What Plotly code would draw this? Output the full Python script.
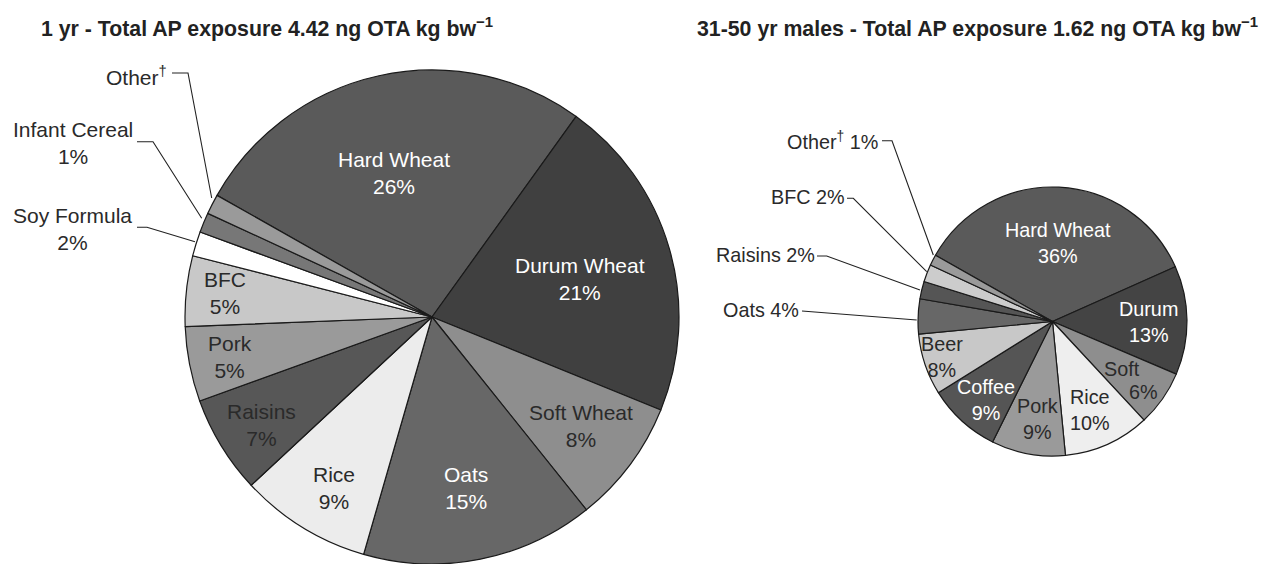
import plotly.graph_objects as go

W, H = 1265, 564

# 1 yr old children
kids_foods = ["Hard Wheat", "Durum Wheat", "Soft Wheat", "Oats", "Rice", "Raisins",
              "Pork", "BFC", "Soy Formula", "Infant Cereal", "Other"]
kids_share = [26.7, 21.2, 8.1, 15.2, 8.6, 6.4, 4.9, 4.6, 1.6, 1.3, 1.3]
kids_pct = ["26%", "21%", "8%", "15%", "9%", "7%", "5%", "5%", "2%", "1%", ""]
kids_colors = ["#5a5a5a", "#404040", "#8e8e8e", "#676767", "#ececec", "#575757",
               "#9a9a9a", "#c8c8c8", "#ffffff", "#777777", "#9a9a9a"]

# 31-50 yr males
men_foods = ["Hard Wheat", "Durum", "Soft", "Rice", "Pork", "Coffee", "Beer",
             "Oats", "Raisins", "BFC", "Other"]
men_share = [35.2, 13.1, 6.7, 10.4, 8.9, 8.8, 7.4, 4.2, 2.1, 2.1, 1.3]
men_pct = ["36%", "13%", "6%", "10%", "9%", "9%", "8%", "4%", "2%", "2%", "1%"]
men_colors = ["#5a5a5a", "#444444", "#8e8e8e", "#eeeeee", "#9a9a9a", "#555555",
              "#c8c8c8", "#676767", "#555555", "#cccccc", "#9a9a9a"]

FONT = "Liberation Sans, Arial, sans-serif"
DARK = "#2a2a2a"


def px(x, y):
    # pixel -> paper
    return x / W, 1 - y / H


fig = go.Figure()

# left pie: centre (432,317), r=247
fig.add_trace(go.Pie(
    labels=kids_foods, values=kids_share, sort=False, direction="clockwise",
    rotation=-60.5, textinfo="none", hoverinfo="label+percent",
    marker=dict(colors=kids_colors, line=dict(color="#1a1a1a", width=1.2)),
    domain=dict(x=[185 / W, 679 / W], y=[0, 1 - 70 / H]),
    showlegend=False,
))

# right pie: centre (1052.5,321.5), r=134.5
fig.add_trace(go.Pie(
    labels=men_foods, values=men_share, sort=False, direction="clockwise",
    rotation=-60.5, textinfo="none", hoverinfo="label+percent",
    marker=dict(colors=men_colors, line=dict(color="#1a1a1a", width=1.2)),
    domain=dict(x=[918 / W, 1187 / W], y=[1 - 456 / H, 1 - 187 / H]),
    showlegend=False,
))

annotations = []
shapes = []


def label(x, y, text, color, size, anchor="center"):
    ax, ay = px(x, y)
    annotations.append(dict(
        x=ax, y=ay, xref="paper", yref="paper", text=text, showarrow=False,
        xanchor=anchor, yanchor="middle", align="center",
        font=dict(family=FONT, size=size, color=color),
    ))


def leader(points):
    p = [px(x, y) for x, y in points]
    path = "M " + " L ".join(f"{a:.5f},{b:.5f}" for a, b in p)
    shapes.append(dict(type="path", xref="paper", yref="paper", path=path,
                       line=dict(color="#222222", width=1.1)))


# inside label spots (pixels) for left pie
kids_spots = {
    "Hard Wheat": (394, 173, "white"),
    "Durum Wheat": (580, 279, "white"),
    "Soft Wheat": (581, 426, DARK),
    "Oats": (466, 488, "white"),
    "Rice": (334, 488, DARK),
    "Raisins": (261, 425, DARK),
    "Pork": (230, 357, DARK),
    "BFC": (225, 293, DARK),
}
for name, pct in zip(kids_foods, kids_pct):
    if name in kids_spots:
        x, y, c = kids_spots[name]
        label(x, y, f"{name}<br>{pct}", c, 21)

label(73, 143, f"Infant Cereal<br>{kids_pct[9]}", DARK, 21)
label(72, 229, f"Soy Formula<br>{kids_pct[8]}", DARK, 21)
label(169, 76, "Other<sup>†</sup>", DARK, 21, anchor="right")
leader([(172, 73), (188, 73), (211.7, 198)])
leader([(137, 141.7), (153, 141.7), (201.7, 218.3)])
leader([(137, 227.3), (147, 227.3), (195, 241.7)])

# right pie
men_spots = {
    "Hard Wheat": (1058, 243, "white"),
    "Durum": (1148, 322, "white"),
    "Rice": (1090, 410, DARK),
    "Pork": (1037, 419, DARK),
    "Coffee": (986, 400, "white"),
    "Beer": (942, 357, DARK),
}
for name, pct in zip(men_foods, men_pct):
    if name in men_spots:
        x, y, c = men_spots[name]
        label(x, y, f"{name}<br>{pct}", c, 19.8)
# staggered label in the narrow slice
label(1122, 369, men_foods[2], DARK, 19.8)
label(1143, 392, men_pct[2], DARK, 19.8)

label(880, 140, f"Other<sup>†</sup> {men_pct[10]}", DARK, 19.8, anchor="right")
label(847, 197, f"BFC {men_pct[9]}", DARK, 19.8, anchor="right")
label(817, 255, f"Raisins {men_pct[8]}", DARK, 19.8, anchor="right")
label(801, 310, f"Oats {men_pct[7]}", DARK, 19.8, anchor="right")
leader([(882, 140.7), (892, 140.7), (933.3, 255)])
leader([(847, 198.3), (853.3, 198.3), (926.7, 271.7)])
leader([(817, 256), (826.7, 256), (920, 290)])
leader([(802, 311), (916.7, 320)])

# titles
tx, ty = px(39, 28)
annotations.append(dict(
    x=tx, y=ty, xref="paper", yref="paper", showarrow=False,
    xanchor="left", yanchor="middle",
    text="<b>1 yr - Total AP exposure 4.42 ng OTA kg bw<sup>−1</sup></b>",
    font=dict(family=FONT, size=21.3, color="#222222"),
))
tx, ty = px(1260, 28)
annotations.append(dict(
    x=tx, y=ty, xref="paper", yref="paper", showarrow=False,
    xanchor="right", yanchor="middle",
    text="<b>31-50 yr males - Total AP exposure 1.62 ng OTA kg bw<sup>−1</sup></b>",
    font=dict(family=FONT, size=21.3, color="#222222"),
))

fig.update_layout(
    width=W, height=H,
    margin=dict(l=0, r=0, t=0, b=0),
    paper_bgcolor="white", plot_bgcolor="white",
    annotations=annotations, shapes=shapes,
)

fig.write_html("out.html", config={"displayModeBar": False},
               post_script="document.body.style.margin='0';")
